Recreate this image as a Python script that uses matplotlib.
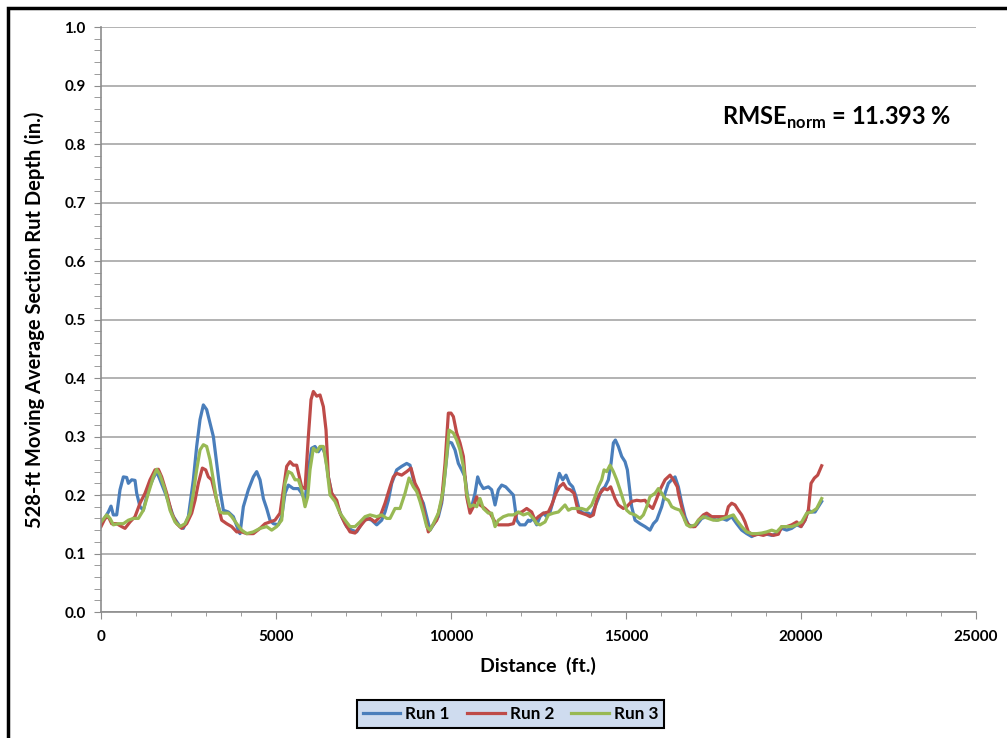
import matplotlib
matplotlib.use("Agg")
import matplotlib.pyplot as plt
from matplotlib.patches import Rectangle
from matplotlib.ticker import MultipleLocator, FormatStrFormatter

plt.rcParams['font.family'] = ['Lato', 'DejaVu Sans']
plt.rcParams['mathtext.fontset'] = 'custom'
plt.rcParams['mathtext.rm'] = 'Lato:bold'

# Run 1 (blue)
dist_run1 = [0, 210, 286, 353, 448, 543, 639, 734, 782, 877, 972, 1020, 1115, 1210, 1353,
             1496, 1591, 1687, 1877, 2068, 2258, 2353, 2496, 2639, 2734, 2830, 2925, 3020,
             3116, 3211, 3306, 3401, 3497, 3639, 3782, 3925, 3973, 4068, 4211, 4354, 4449,
             4545, 4640, 4735, 4830, 4926, 5068, 5164, 5259, 5354, 5497, 5640, 5735, 5831,
             5926, 6021, 6116, 6212, 6307, 6402, 6497, 6593, 6736, 6878, 7021, 7164, 7307,
             7450, 7593, 7736, 7879, 8022, 8117, 8212, 8308, 8450, 8593, 8736, 8831, 8927,
             9022, 9117, 9212, 9308, 9403, 9498, 9641, 9736, 9832, 9927, 10022, 10117, 10213,
             10308, 10403, 10499, 10594, 10689, 10765, 10832, 10927, 11070, 11165, 11261,
             11356, 11451, 11565, 11689, 11784, 11880, 11975, 12118, 12213, 12261, 12356,
             12452, 12547, 12642, 12737, 12833, 12928, 13023, 13099, 13195, 13290, 13385,
             13480, 13576, 13671, 13785, 13928, 14023, 14119, 14214, 14309, 14404, 14500,
             14576, 14643, 14700, 14785, 14881, 14976, 15043, 15100, 15166, 15262, 15405,
             15548, 15690, 15786, 15881, 16024, 16119, 16214, 16310, 16405, 16500, 16596,
             16691, 16786, 16929, 17024, 17167, 17310, 17453, 17596, 17739, 17882, 18024,
             18167, 18310, 18453, 18596, 18739, 18882, 19025, 19168, 19310, 19453, 19596,
             19739, 19882, 20006, 20120, 20215, 20311, 20406, 20501, 20596]
depth_run1 = [0.150, 0.171, 0.181, 0.166, 0.166, 0.209, 0.231, 0.230, 0.220, 0.226, 0.225,
              0.203, 0.180, 0.174, 0.209, 0.229, 0.240, 0.226, 0.197, 0.163, 0.146, 0.143,
              0.163, 0.226, 0.283, 0.329, 0.354, 0.346, 0.323, 0.300, 0.254, 0.209, 0.174,
              0.171, 0.163, 0.140, 0.134, 0.180, 0.209, 0.231, 0.240, 0.226, 0.194, 0.177,
              0.157, 0.151, 0.149, 0.163, 0.203, 0.217, 0.211, 0.211, 0.203, 0.191, 0.243,
              0.280, 0.283, 0.274, 0.283, 0.271, 0.231, 0.203, 0.186, 0.163, 0.146, 0.140,
              0.137, 0.151, 0.160, 0.157, 0.149, 0.157, 0.171, 0.191, 0.220, 0.243, 0.249,
              0.254, 0.251, 0.226, 0.209, 0.197, 0.186, 0.163, 0.140, 0.149, 0.163, 0.186,
              0.237, 0.291, 0.289, 0.277, 0.254, 0.243, 0.231, 0.186, 0.180, 0.203, 0.231,
              0.220, 0.211, 0.214, 0.209, 0.183, 0.209, 0.217, 0.214, 0.206, 0.200, 0.157,
              0.149, 0.149, 0.157, 0.155, 0.160, 0.149, 0.163, 0.169, 0.163, 0.171, 0.191,
              0.220, 0.237, 0.226, 0.234, 0.220, 0.214, 0.197, 0.174, 0.169, 0.169, 0.166,
              0.180, 0.194, 0.209, 0.214, 0.226, 0.254, 0.289, 0.294, 0.283, 0.266, 0.257,
              0.243, 0.214, 0.180, 0.157, 0.151, 0.146, 0.140, 0.151, 0.157, 0.180, 0.203,
              0.220, 0.226, 0.231, 0.214, 0.186, 0.163, 0.149, 0.146, 0.149, 0.160, 0.163,
              0.160, 0.157, 0.160, 0.157, 0.163, 0.151, 0.140, 0.134, 0.129, 0.133, 0.133,
              0.133, 0.131, 0.134, 0.143, 0.140, 0.143, 0.149, 0.146, 0.157, 0.174, 0.171,
              0.171, 0.180, 0.189]

# Run 2 (red)
dist_run2 = [0, 115, 210, 305, 448, 591, 686, 829, 972, 1115, 1258, 1401, 1544, 1639, 1734,
             1877, 2020, 2163, 2306, 2449, 2592, 2687, 2782, 2896, 2992, 3068, 3163, 3258,
             3354, 3449, 3592, 3735, 3878, 4020, 4164, 4354, 4545, 4687, 4830, 4973, 5116,
             5211, 5307, 5402, 5497, 5592, 5669, 5735, 5831, 5926, 6002, 6069, 6164, 6259,
             6355, 6431, 6497, 6593, 6736, 6831, 6974, 7117, 7260, 7402, 7545, 7688, 7831,
             7974, 8117, 8260, 8355, 8450, 8593, 8736, 8860, 8974, 9070, 9165, 9260, 9355,
             9451, 9594, 9736, 9832, 9927, 10003, 10070, 10165, 10260, 10356, 10451, 10546,
             10641, 10737, 10832, 10975, 11118, 11261, 11356, 11499, 11642, 11784, 11880,
             12023, 12166, 12308, 12404, 12499, 12642, 12785, 12880, 13004, 13099, 13214,
             13309, 13404, 13518, 13642, 13738, 13880, 13976, 14071, 14166, 14261, 14376,
             14471, 14566, 14690, 14785, 14928, 15024, 15166, 15309, 15424, 15548, 15643,
             15767, 15862, 15976, 16119, 16262, 16357, 16471, 16500, 16596, 16691, 16834,
             16977, 17072, 17215, 17310, 17453, 17596, 17739, 17853, 17929, 18024, 18120,
             18215, 18310, 18405, 18501, 18644, 18787, 18929, 19072, 19215, 19358, 19453,
             19596, 19739, 19882, 20006, 20120, 20215, 20292, 20387, 20482, 20596]
depth_run2 = [0.146, 0.160, 0.163, 0.151, 0.151, 0.146, 0.143, 0.154, 0.163, 0.186, 0.203,
              0.226, 0.243, 0.244, 0.231, 0.203, 0.169, 0.151, 0.143, 0.151, 0.169, 0.191,
              0.220, 0.246, 0.243, 0.231, 0.226, 0.203, 0.180, 0.157, 0.151, 0.146, 0.137,
              0.137, 0.134, 0.134, 0.143, 0.151, 0.154, 0.157, 0.169, 0.209, 0.249, 0.257,
              0.251, 0.251, 0.231, 0.214, 0.211, 0.300, 0.363, 0.377, 0.369, 0.371, 0.351,
              0.311, 0.231, 0.203, 0.191, 0.169, 0.151, 0.137, 0.135, 0.146, 0.157, 0.160,
              0.154, 0.163, 0.186, 0.214, 0.231, 0.237, 0.234, 0.240, 0.246, 0.220, 0.209,
              0.191, 0.163, 0.137, 0.146, 0.157, 0.191, 0.254, 0.340, 0.340, 0.334, 0.306,
              0.289, 0.266, 0.197, 0.169, 0.180, 0.197, 0.183, 0.177, 0.169, 0.154, 0.149,
              0.149, 0.149, 0.151, 0.169, 0.171, 0.177, 0.171, 0.157, 0.163, 0.169, 0.171,
              0.183, 0.203, 0.214, 0.220, 0.211, 0.209, 0.203, 0.171, 0.169, 0.166, 0.163,
              0.166, 0.191, 0.203, 0.211, 0.209, 0.214, 0.194, 0.183, 0.177, 0.180, 0.189,
              0.191, 0.190, 0.191, 0.183, 0.177, 0.191, 0.209, 0.226, 0.234, 0.226, 0.214,
              0.203, 0.180, 0.157, 0.146, 0.146, 0.157, 0.166, 0.169, 0.163, 0.163, 0.163,
              0.163, 0.180, 0.186, 0.183, 0.174, 0.166, 0.154, 0.137, 0.131, 0.133, 0.131,
              0.134, 0.131, 0.133, 0.146, 0.146, 0.149, 0.154, 0.146, 0.157, 0.174, 0.220,
              0.229, 0.234, 0.250]

# Run 3 (green)
dist_run3 = [0, 162, 258, 353, 496, 639, 782, 925, 1067, 1210, 1353, 1496, 1591, 1687, 1830,
             1972, 2115, 2258, 2401, 2544, 2639, 2734, 2830, 2925, 3020, 3116, 3211, 3306,
             3401, 3497, 3639, 3735, 3878, 4020, 4164, 4354, 4545, 4735, 4878, 5021, 5164,
             5259, 5354, 5450, 5545, 5640, 5735, 5831, 5907, 5973, 6069, 6164, 6259, 6355,
             6450, 6545, 6688, 6831, 6974, 7117, 7260, 7402, 7545, 7688, 7879, 8022, 8164,
             8260, 8403, 8546, 8689, 8803, 8927, 9022, 9117, 9212, 9308, 9403, 9498, 9641,
             9784, 9879, 9946, 10070, 10165, 10260, 10356, 10451, 10546, 10641, 10737, 10832,
             10927, 11070, 11165, 11261, 11356, 11499, 11642, 11784, 11927, 12070, 12213,
             12356, 12452, 12547, 12690, 12785, 12928, 13071, 13166, 13261, 13357, 13452,
             13595, 13738, 13880, 14023, 14119, 14214, 14309, 14376, 14452, 14547, 14643,
             14738, 14833, 14928, 15024, 15119, 15262, 15405, 15500, 15595, 15690, 15833,
             15928, 16024, 16119, 16214, 16310, 16405, 16548, 16643, 16738, 16834, 16977,
             17072, 17215, 17358, 17500, 17643, 17786, 17929, 18072, 18167, 18310, 18453,
             18596, 18739, 18882, 19025, 19168, 19310, 19453, 19596, 19739, 19882, 20025,
             20168, 20311, 20453, 20596]
depth_run3 = [0.154, 0.166, 0.160, 0.149, 0.151, 0.151, 0.157, 0.160, 0.160, 0.174, 0.203,
              0.231, 0.244, 0.234, 0.209, 0.174, 0.154, 0.146, 0.151, 0.169, 0.203, 0.243,
              0.277, 0.286, 0.283, 0.260, 0.226, 0.191, 0.171, 0.169, 0.169, 0.163, 0.151,
              0.140, 0.134, 0.137, 0.143, 0.146, 0.140, 0.146, 0.157, 0.220, 0.240, 0.237,
              0.226, 0.226, 0.209, 0.180, 0.197, 0.243, 0.280, 0.274, 0.283, 0.283, 0.249,
              0.200, 0.189, 0.169, 0.157, 0.146, 0.146, 0.154, 0.163, 0.166, 0.163, 0.166,
              0.160, 0.160, 0.177, 0.177, 0.203, 0.229, 0.214, 0.206, 0.189, 0.169, 0.146,
              0.140, 0.151, 0.169, 0.209, 0.266, 0.311, 0.306, 0.294, 0.277, 0.249, 0.203,
              0.180, 0.183, 0.180, 0.194, 0.177, 0.169, 0.169, 0.146, 0.157, 0.163, 0.166,
              0.166, 0.171, 0.166, 0.169, 0.160, 0.151, 0.149, 0.154, 0.166, 0.169, 0.171,
              0.177, 0.183, 0.174, 0.177, 0.177, 0.177, 0.174, 0.183, 0.197, 0.214, 0.226,
              0.243, 0.240, 0.251, 0.240, 0.226, 0.209, 0.191, 0.174, 0.169, 0.166, 0.160,
              0.166, 0.180, 0.197, 0.203, 0.211, 0.203, 0.194, 0.191, 0.180, 0.177, 0.174,
              0.163, 0.149, 0.146, 0.149, 0.157, 0.163, 0.160, 0.157, 0.157, 0.160, 0.163,
              0.166, 0.157, 0.146, 0.137, 0.134, 0.134, 0.135, 0.137, 0.140, 0.137, 0.146,
              0.146, 0.146, 0.149, 0.154, 0.169, 0.171, 0.177, 0.194]

run_labels = ["Run 1", "Run 2", "Run 3"]
run_colors = ["#4a7ebb", "#be4b48", "#98b954"]
rmse_text = r"RMSE$_{\mathrm{norm}}$ = 11.393 %"

fig = plt.figure(figsize=(10.07, 7.38), dpi=100)
ax = fig.add_axes([0.1003, 0.1707, 0.8687, 0.7927])

ax.plot(dist_run1, depth_run1, color=run_colors[0], lw=2.3, label=run_labels[0])
ax.plot(dist_run2, depth_run2, color=run_colors[1], lw=2.3, label=run_labels[1])
ax.plot(dist_run3, depth_run3, color=run_colors[2], lw=2.3, label=run_labels[2])

ax.set_xlim(0, 25000)
ax.set_ylim(0, 1.0)
ax.xaxis.set_major_locator(MultipleLocator(5000))
ax.xaxis.set_minor_locator(MultipleLocator(1000))
ax.yaxis.set_major_locator(MultipleLocator(0.1))
ax.yaxis.set_minor_locator(MultipleLocator(0.02))
ax.yaxis.set_major_formatter(FormatStrFormatter('%.1f'))

ax.grid(axis='y', which='major', color='#a6a6a6', lw=1.2)
ax.set_axisbelow(True)
for s in ['top', 'right']:
    ax.spines[s].set_visible(False)
for s in ['left', 'bottom']:
    ax.spines[s].set_color('#8c8c8c')
    ax.spines[s].set_linewidth(1.2)

ax.tick_params(axis='both', which='both', color='#8c8c8c', direction='out')
ax.tick_params(axis='y', which='major', length=5, pad=6)
ax.tick_params(axis='y', which='minor', length=5)
ax.tick_params(axis='x', which='major', length=5, pad=8)
ax.tick_params(axis='x', which='minor', length=3)
for lab in ax.get_xticklabels() + ax.get_yticklabels():
    lab.set_fontweight('bold')
    lab.set_fontsize(11)

ax.set_xlabel("Distance  (ft.)", fontsize=14, fontweight='bold', labelpad=9)
ax.set_ylabel("528-ft Moving Average Section Rut Depth (in.)", fontsize=14.5,
              fontweight='bold')
ax.yaxis.set_label_coords(-0.064, 0.5)

ax.text(0.71, 0.845, rmse_text, transform=ax.transAxes, fontsize=17,
        fontweight='bold', ha='left', va='center')

leg = fig.legend(loc='center', bbox_to_anchor=(0.507, 0.033), ncol=3, frameon=True,
                 fancybox=False, facecolor='#cfdcef', edgecolor='black',
                 handlelength=2.2, columnspacing=1.0, handletextpad=0.3,
                 prop={'weight': 'bold', 'size': 12.3}, borderpad=0.35)
leg.get_frame().set_linewidth(1.5)
leg.get_frame().set_alpha(1)

# outer chart border (right and bottom edges fall outside the picture)
fig.add_artist(Rectangle((8 / 1007, -0.05), 1.1, (730 / 738) + 0.05,
                         transform=fig.transFigure, fill=False, ec='black', lw=2.5))

fig.savefig("out.png", dpi=100)
